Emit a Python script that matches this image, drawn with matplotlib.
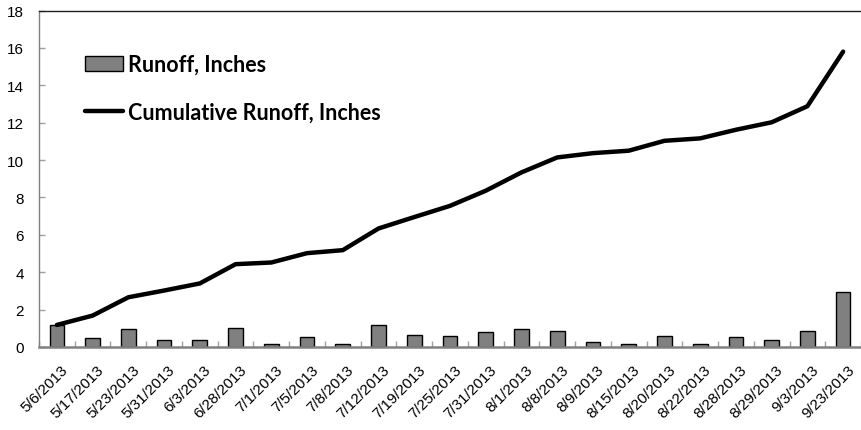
import numpy as np
import matplotlib
matplotlib.use("Agg")
import matplotlib.pyplot as plt
from matplotlib.ticker import FixedLocator
from matplotlib.transforms import ScaledTranslation

# Data
dates = ["5/6/2013", "5/17/2013", "5/23/2013", "5/31/2013", "6/3/2013", "6/28/2013",
         "7/1/2013", "7/5/2013", "7/8/2013", "7/12/2013", "7/19/2013", "7/25/2013",
         "7/31/2013", "8/1/2013", "8/8/2013", "8/9/2013", "8/15/2013", "8/20/2013",
         "8/22/2013", "8/28/2013", "8/29/2013", "9/3/2013", "9/23/2013"]
runoff = [1.18, 0.50, 0.98, 0.37, 0.40, 1.02, 0.14, 0.52, 0.16, 1.17, 0.66, 0.61,
          0.80, 0.98, 0.88, 0.25, 0.14, 0.57, 0.14, 0.54, 0.40, 0.86, 2.95]
cumulative = [1.18, 1.68, 2.66, 3.02, 3.40, 4.43, 4.52, 5.02, 5.18, 6.34, 6.95, 7.55,
              8.36, 9.34, 10.14, 10.37, 10.50, 11.03, 11.16, 11.62, 12.02, 12.88, 15.80]

plt.rcParams['font.family'] = ['Liberation Sans', 'DejaVu Sans']

fig = plt.figure(figsize=(8.61, 4.31), dpi=100)
ax = fig.add_axes([39/861, 83/431, 1 - 39/861, (348 - 11.5)/431])

x = np.arange(len(dates))
bars = ax.bar(x, runoff, width=0.41, color='#808080', edgecolor='black', linewidth=1.0,
              label='Runoff, Inches', zorder=2)
line, = ax.plot(x, cumulative, color='black', linewidth=3.2, solid_capstyle='round',
                label='Cumulative Runoff, Inches', zorder=3)

ax.set_xlim(-0.5, len(dates) - 0.5)
ax.set_ylim(0, 18)
ax.set_yticks(np.arange(0, 19, 2))
ax.tick_params(axis='y', direction='in', length=4, width=1, color='#a0a0a0',
               pad=11, labelsize=11)

ax.set_xticks(x)
ax.set_xticklabels(dates, rotation=45, ha='right', va='top', rotation_mode='anchor', fontsize=11)
ax.tick_params(axis='x', which='major', length=0, pad=11)
shift = ScaledTranslation(4/100, 0, fig.dpi_scale_trans)
for lbl in ax.get_xticklabels():
    lbl.set_transform(lbl.get_transform() + shift)
ax.xaxis.set_minor_locator(FixedLocator(np.arange(-0.5, len(dates), 1.0)))
ax.tick_params(axis='x', which='minor', direction='in', length=4, width=1, color='#a0a0a0')

ax.spines['right'].set_visible(False)
ax.spines['top'].set_color('#202020')
ax.spines['top'].set_linewidth(1.0)
ax.spines['left'].set_color('#808080')
ax.spines['left'].set_linewidth(1.0)
ax.spines['bottom'].set_color('#808080')
ax.spines['bottom'].set_linewidth(1.8)

ax.legend(handles=[bars, line], loc='upper left', bbox_to_anchor=(85/861, 1 - 55/431),
          bbox_transform=fig.transFigure, frameon=False,
          prop={'family': 'Lato', 'weight': 'bold', 'size': 15.5},
          handlelength=1.77, handletextpad=0.23, labelspacing=1.25,
          borderpad=0, borderaxespad=0)

fig.savefig('out.png', dpi=100)
